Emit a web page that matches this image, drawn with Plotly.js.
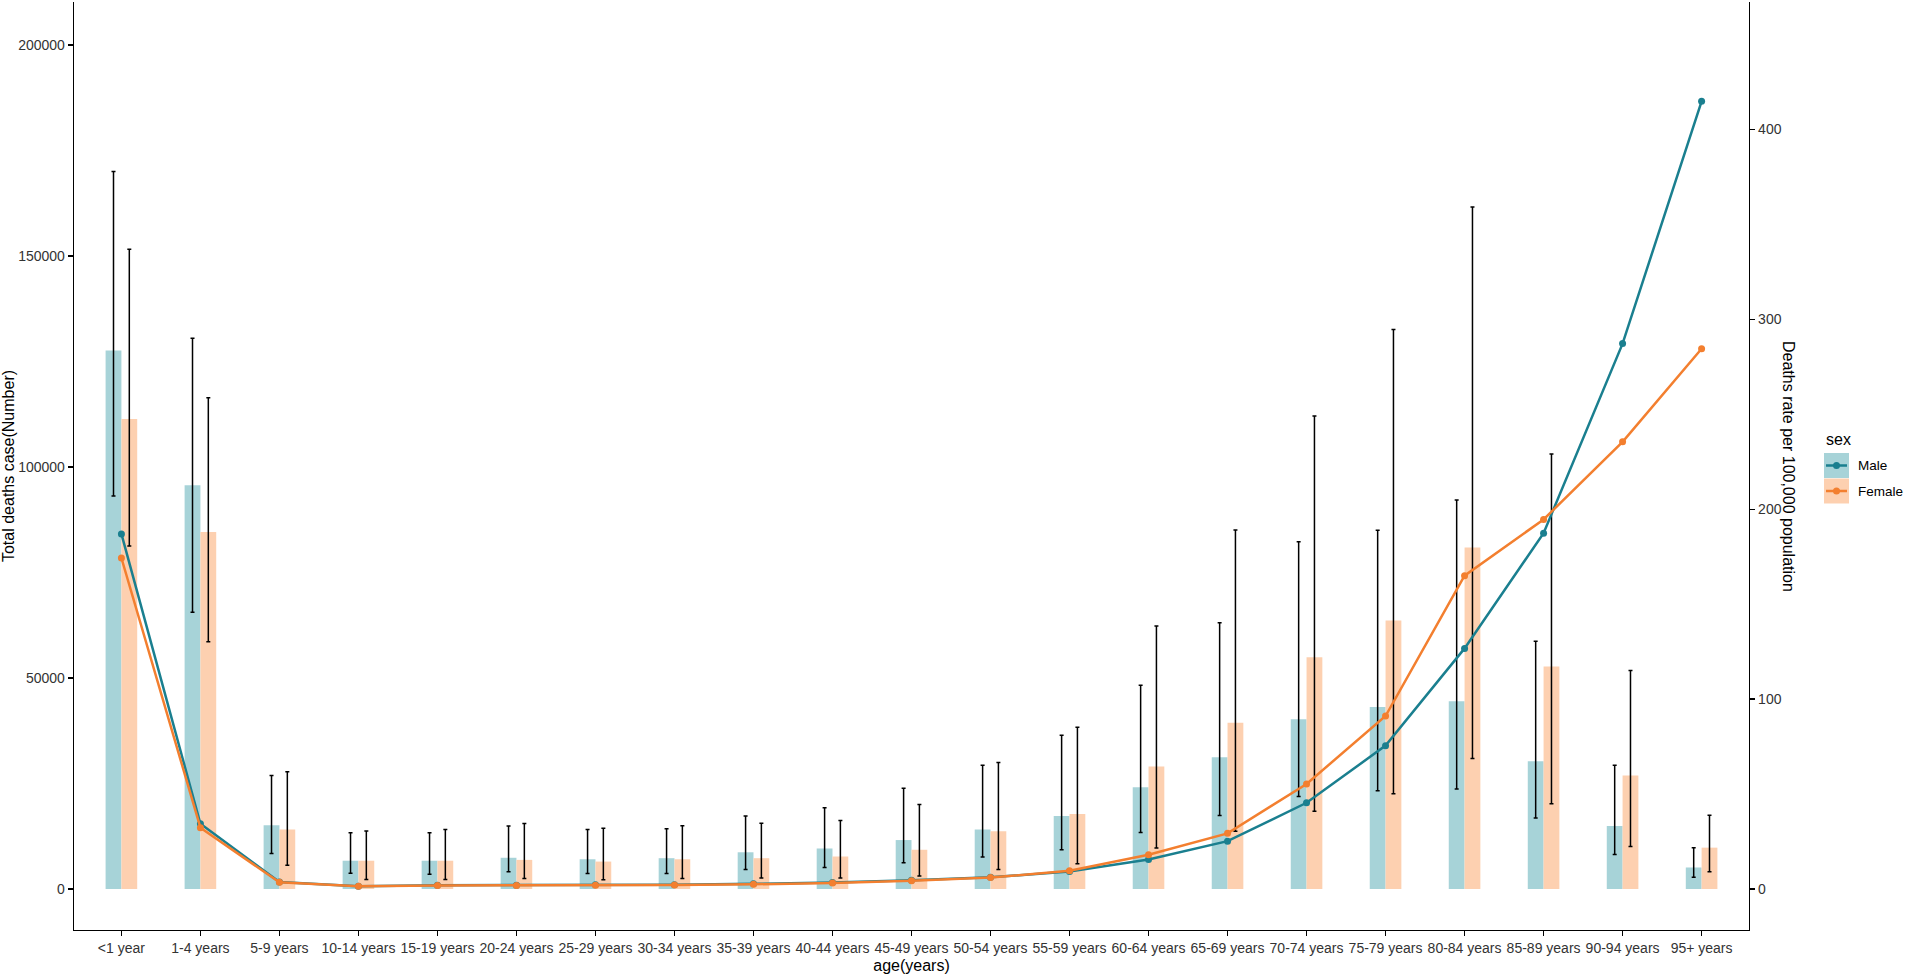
<!DOCTYPE html>
<html>
<head>
<meta charset="utf-8">
<script src="https://cdn.plot.ly/plotly-3.0.1.min.js"></script>
<style>
  html, body { margin: 0; padding: 0; background: #fff; }
  #chart { width: 1905px; height: 975px; }
</style>
</head>
<body>
<div id="chart"></div>
<script>
/***** data *****/
var ages = ['<1 year', '1-4 years', '5-9 years', '10-14 years', '15-19 years', '20-24 years',
  '25-29 years', '30-34 years', '35-39 years', '40-44 years', '45-49 years', '50-54 years',
  '55-59 years', '60-64 years', '65-69 years', '70-74 years', '75-79 years', '80-84 years',
  '85-89 years', '90-94 years', '95+ years'];

// total deaths (left axis) with uncertainty interval
var maleDeaths = [127600, 95700, 15100, 6700, 6700, 7400, 7050, 7300, 8700, 9600, 11600,
  14100, 17300, 24100, 31200, 40200, 43100, 44500, 30300, 14900, 5100];
var maleUpper = [170000, 130500, 26900, 13300, 13300, 14900, 14100, 14300, 17300, 19250, 23900,
  29300, 36450, 48300, 63100, 82300, 85000, 92200, 58700, 29300, 9800];
var maleLower = [93100, 65600, 8400, 3750, 3500, 4100, 3650, 3650, 4600, 5100, 6200,
  7600, 9300, 13400, 17400, 21900, 23300, 23700, 16800, 8200, 2800];

var femaleDeaths = [111400, 84600, 14100, 6700, 6700, 6900, 6500, 7050, 7300, 7700, 9300,
  13700, 17800, 29000, 39400, 54900, 63600, 80900, 52700, 26900, 9800];
var femaleUpper = [151600, 116400, 27800, 13750, 14100, 15500, 14400, 15000, 15600, 16250, 20000,
  29950, 38300, 62300, 85100, 112100, 132600, 161600, 103100, 51800, 17500];
var femaleLower = [81300, 58600, 5600, 2270, 2270, 2500, 2200, 2500, 2600, 2600, 3100,
  4600, 6000, 9700, 13700, 18400, 22600, 30900, 20200, 10100, 4100];

// deaths rate per 100,000 (right axis)
var maleRate = [187.0, 34.3, 3.7, 1.5, 2.0, 2.0, 2.2, 2.2, 2.7, 3.4, 4.6,
  6.2, 9.2, 15.5, 25.2, 45.4, 75.5, 126.7, 187.4, 287.2, 414.8];
var femaleRate = [174.3, 32.3, 3.5, 1.5, 1.9, 1.9, 2.0, 2.1, 2.5, 3.1, 4.3,
  6.0, 9.6, 18.0, 29.3, 55.3, 91.1, 165.0, 194.6, 235.5, 284.5];

var leftTicks = [0, 50000, 100000, 150000, 200000];
var rightTicks = [0, 100, 200, 300, 400];

/***** colours *****/
var maleBar = '#a7d3d8', femaleBar = '#fdd0b0';
var maleLine = '#1a7f8f', femaleLine = '#f37f2f';

function diff(a, b) { return a.map(function (v, i) { return v - b[i]; }); }

var bar1 = {
  x: ages, y: maleDeaths, type: 'bar', name: 'Male',
  marker: { color: maleBar, line: { width: 0 } },
  error_y: {
    type: 'data', symmetric: false,
    array: diff(maleUpper, maleDeaths), arrayminus: diff(maleDeaths, maleLower),
    color: '#000', thickness: 1.5, width: 2
  },
  showlegend: false, hoverinfo: 'skip'
};

var bar2 = {
  x: ages, y: femaleDeaths, type: 'bar', name: 'Female',
  marker: { color: femaleBar, line: { width: 0 } },
  error_y: {
    type: 'data', symmetric: false,
    array: diff(femaleUpper, femaleDeaths), arrayminus: diff(femaleDeaths, femaleLower),
    color: '#000', thickness: 1.5, width: 2
  },
  showlegend: false, hoverinfo: 'skip'
};

var line1 = {
  x: ages, y: maleRate, type: 'scatter', mode: 'lines+markers', yaxis: 'y2', name: 'Male',
  line: { color: maleLine, width: 2.5 },
  marker: { color: maleLine, size: 7 },
  showlegend: false
};

var line2 = {
  x: ages, y: femaleRate, type: 'scatter', mode: 'lines+markers', yaxis: 'y2', name: 'Female',
  line: { color: femaleLine, width: 2.5 },
  marker: { color: femaleLine, size: 7 },
  showlegend: false
};

/***** legend + right title (drawn by hand, ggplot style) *****/
var L = 74, R = 1749, T = 2, B = 930;
function px(x) { return (x - L) / (R - L); }
function py(y) { return (B - y) / (B - T); }

var fam = 'Liberation Sans, Arial, sans-serif';
var tickFont = { family: fam, size: 14, color: '#333' };
var titleFont = { family: fam, size: 16, color: '#000' };

var shapes = [];
var annotations = [
  { text: 'Deaths rate per 100,000 population', textangle: 90,
    x: px(1789), y: py(466), xref: 'paper', yref: 'paper', xanchor: 'center', yanchor: 'middle',
    showarrow: false, font: titleFont },
  { text: 'sex', x: px(1824), y: py(439), xref: 'paper', yref: 'paper', xanchor: 'left', yanchor: 'middle',
    showarrow: false, font: { family: fam, size: 16, color: '#000' } }
];
[['Male', maleBar, maleLine, 453], ['Female', femaleBar, femaleLine, 478.5]].forEach(function (k) {
  var top = k[3], bot = k[3] + 25, mid = k[3] + 12.5;
  shapes.push({ type: 'rect', xref: 'paper', yref: 'paper', x0: px(1824), x1: px(1849), y0: py(bot), y1: py(top),
    fillcolor: k[1], line: { width: 0 } });
  shapes.push({ type: 'line', xref: 'paper', yref: 'paper', x0: px(1826), x1: px(1847), y0: py(mid), y1: py(mid),
    line: { color: k[2], width: 2.5 } });
  shapes.push({ type: 'circle', xref: 'paper', yref: 'paper', x0: px(1833), x1: px(1840), y0: py(mid + 3.5), y1: py(mid - 3.5),
    fillcolor: k[2], line: { width: 0 } });
  annotations.push({ text: k[0], x: px(1856), y: py(mid), xref: 'paper', yref: 'paper', xanchor: 'left', yanchor: 'middle',
    showarrow: false, font: { family: fam, size: 13.5, color: '#000' } });
});

var layout = {
  width: 1905, height: 975,
  margin: { l: L, r: 1905 - R, t: T, b: 975 - B },
  paper_bgcolor: '#fff', plot_bgcolor: '#fff',
  font: { family: fam },
  barmode: 'group', bargap: 0.6, bargroupgap: 0,
  showlegend: false,
  xaxis: {
    type: 'category', range: [-0.6, 20.6], automargin: false,
    showline: true, linecolor: '#000', linewidth: 1.3,
    ticks: 'outside', ticklen: 5, tickwidth: 1.3, tickcolor: '#000',
    tickfont: tickFont, showgrid: false, zeroline: false,
    title: { text: 'age(years)', font: titleFont, standoff: 4 }
  },
  yaxis: {
    range: [-9716, 210190], automargin: false,
    tickvals: leftTicks, tickformat: 'd',
    showline: true, linecolor: '#000', linewidth: 1.3,
    ticks: 'outside', ticklen: 5, tickwidth: 1.3, tickcolor: '#000',
    tickfont: tickFont, showgrid: false, zeroline: false,
    title: { text: 'Total deaths case(Number)', font: titleFont, standoff: 8 }
  },
  yaxis2: {
    overlaying: 'y', side: 'right', range: [-21.59, 467.09], automargin: false,
    tickvals: rightTicks,
    showline: true, linecolor: '#000', linewidth: 1.3,
    ticks: 'outside', ticklen: 5, tickwidth: 1.3, tickcolor: '#000',
    tickfont: tickFont, showgrid: false, zeroline: false
  },
  shapes: shapes,
  annotations: annotations
};

var config = { displayModeBar: false, staticPlot: true };

var data = [bar1, bar2, line1, line2];
Plotly.newPlot('chart', data, layout, config);
</script>
</body>
</html>
